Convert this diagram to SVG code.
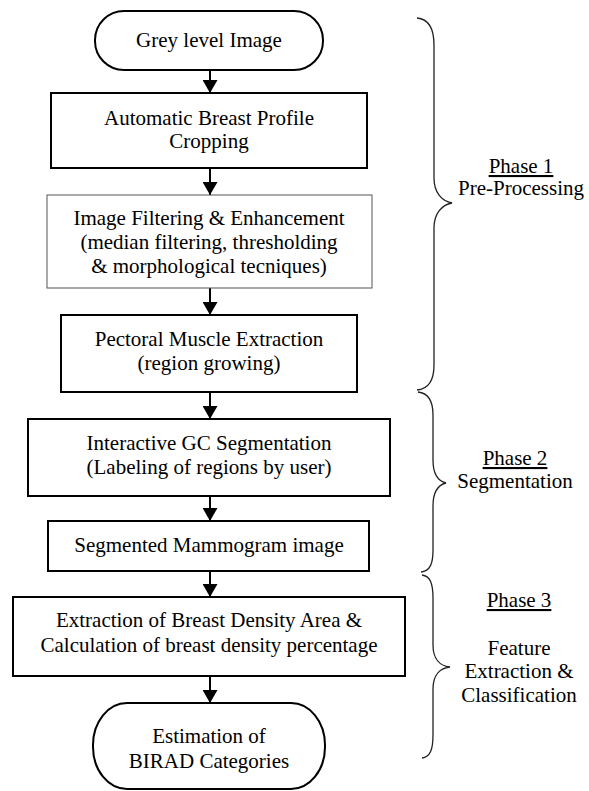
<svg xmlns="http://www.w3.org/2000/svg" width="589" height="791" viewBox="0 0 589 791">
<defs>
<marker id="ah" viewBox="0 0 13 15" refX="13" refY="7.5" markerWidth="13" markerHeight="15" markerUnits="userSpaceOnUse" orient="auto">
<path d="M0,0 L13,7.5 L0,15 z" fill="#000"/>
</marker>
</defs>
<style>
text{font-family:"Liberation Serif","Times New Roman",serif;font-size:21px;fill:#000;text-anchor:middle}
.box{fill:#fff;stroke:#000;stroke-width:2}
.thin{fill:#fff;stroke:#555;stroke-width:1}
.brace{fill:none;stroke:#222;stroke-width:1.3}
.conn line{stroke:#000;stroke-width:2;marker-end:url(#ah)}
.u{text-decoration:underline}
</style>
<rect width="589" height="791" fill="#fff"/>
<g class="conn" id="connectors">
<line x1="210" y1="70" x2="210" y2="93"/>
<line x1="210" y1="168" x2="210" y2="195"/>
<line x1="210" y1="288" x2="210" y2="315"/>
<line x1="210" y1="392" x2="210" y2="419"/>
<line x1="210" y1="496" x2="210" y2="521"/>
<line x1="210" y1="571" x2="210" y2="597"/>
<line x1="210" y1="676" x2="210" y2="703"/>
</g>
<g id="n_start">
<rect class="box" x="95" y="11" width="228" height="59" rx="29" ry="29"/>
<text x="209" y="47">Grey level Image</text>
</g>
<g id="n_crop">
<rect class="box" x="51" y="93" width="316" height="75"/>
<text x="209" y="125">Automatic Breast Profile</text>
<text x="209" y="148">Cropping</text>
</g>
<g id="n_filter">
<rect class="thin" x="47" y="195" width="325" height="93"/>
<text x="209" y="225">Image Filtering &amp; Enhancement</text>
<text x="209" y="249">(median filtering, thresholding</text>
<text x="209" y="273">&amp; morphological tecniques)</text>
</g>
<g id="n_pectoral">
<rect class="box" x="61" y="315" width="296" height="77"/>
<text x="209" y="346">Pectoral Muscle Extraction</text>
<text x="209" y="370">(region growing)</text>
</g>
<g id="n_gc">
<rect class="box" x="28" y="419" width="362" height="77"/>
<text x="209" y="450">Interactive GC Segmentation</text>
<text x="209" y="474">(Labeling of regions by user)</text>
</g>
<g id="n_segmented">
<rect class="box" x="48" y="521" width="321" height="50"/>
<text x="209" y="552">Segmented Mammogram image</text>
</g>
<g id="n_density">
<rect class="box" x="13" y="597" width="392" height="79"/>
<text x="209" y="627">Extraction of Breast Density Area &amp;</text>
<text x="209" y="652">Calculation of breast density percentage</text>
</g>
<g id="n_end">
<rect class="box" x="93" y="703" width="232" height="86" rx="34" ry="42"/>
<text x="209" y="743">Estimation of</text>
<text x="209" y="768">BIRAD Categories</text>
</g>
<g id="phase1">
<path class="brace" d="M417,18 C428,19 434,28 434,45 L434,178 C434,193 442,201 452,203 C442,205 434,213 434,228 L434,365 C434,382 428,389 417,390"/>
<text class="u" x="521" y="173">Phase 1</text>
<text x="521" y="195">Pre-Processing</text>
</g>
<g id="phase2">
<path class="brace" d="M418,392 C428,393 433,400 433,415 L433,460 C433,474 438,481 446,483 C438,485 433,492 433,506 L433,550 C433,564 430,571 421,572"/>
<text class="u" x="515" y="465">Phase 2</text>
<text x="515" y="488">Segmentation</text>
</g>
<g id="phase3">
<path class="brace" d="M422,575 C430,576 433,583 433,598 L433,645 C433,659 440,666 450,667 C440,668 433,675 433,689 L433,735 C433,750 430,757 422,758"/>
<text class="u" x="519" y="607">Phase 3</text>
<text x="519" y="655">Feature</text>
<text x="519" y="678">Extraction &amp;</text>
<text x="519" y="702">Classification</text>
</g>
</svg>
